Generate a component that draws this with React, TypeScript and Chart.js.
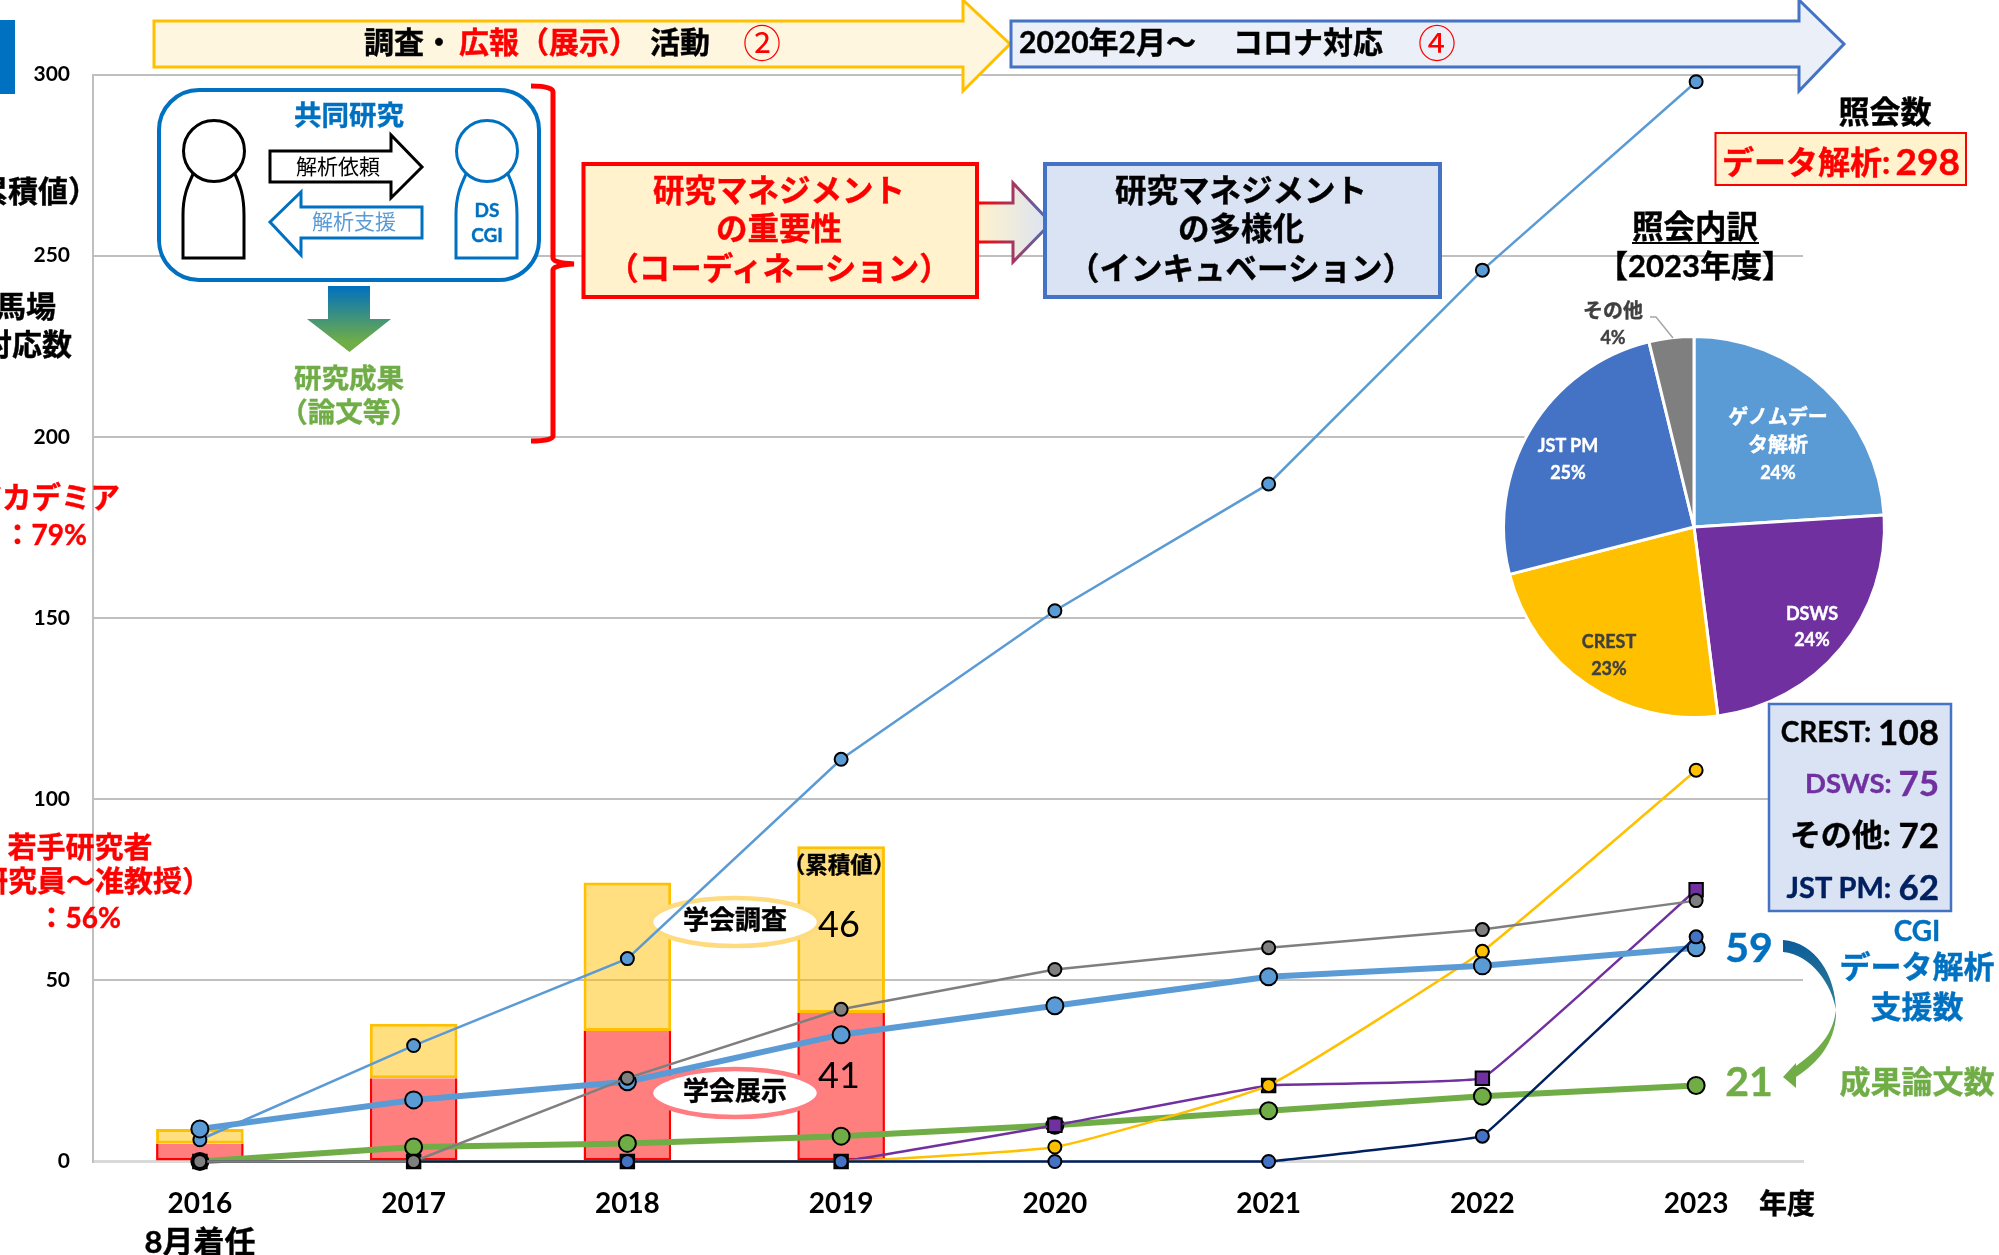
import React, { useEffect, useRef } from "react";
import { Chart, registerables } from "chart.js";

Chart.register(...registerables);

const FONT = "Lato, 'Noto Sans CJK JP', sans-serif";
const JP = "'Noto Sans CJK JP', sans-serif";

const years = ["2016", "2017", "2018", "2019", "2020", "2021", "2022", "2023"];
const boothCounts = [5, 23, 36, 41, null, null, null, null];
const surveyCounts = [4, 15, 41, 46, null, null, null, null];
const dataAnalysis = [6, 32, 56, 111, 152, 187, 246, 298];
const cgiSupport = [9, 17, 22, 35, 43, 51, 54, 59];
const papers = [0, 4, 5, 7, 10, 14, 18, 21];
const crest = [0, 0, 0, 0, 4, 21, 58, 108];
const dsws = [0, 0, 0, 0, 10, 21, 23, 75];
const others = [0, 0, 23, 42, 53, 59, 64, 72];
const jstPm = [0, 0, 0, 0, 0, 0, 7, 62];

const yTicks = [0, 50, 100, 150, 200, 250, 300];

const pieNames = ["ゲノムデータ解析", "DSWS", "CREST", "JST PM", "その他"];
const pieValues = [24, 24, 23, 25.2, 3.8];
const pieColors = ["#5b9bd5", "#7030a0", "#ffc000", "#4472c4", "#7f7f7f"];

const W = 1999;
const H = 1255;

const line = (label: string, data: number[], color: string, markerFill: string, order: number, opts: any = {}) => ({
  type: "line" as const,
  label,
  data,
  order,
  borderColor: color,
  backgroundColor: markerFill,
  borderWidth: 2.5,
  pointRadius: 6.5,
  pointBorderWidth: 2,
  pointBorderColor: "#000000",
  pointBackgroundColor: markerFill,
  clip: false as const,
  tension: 0,
  ...opts,
});

const boothLabel = "学会展示";
const ovalsPlugin = {
  id: "ovals",
  afterDatasetDraw(chart: any, args: any) {
    if (args.meta.label !== boothLabel) return;
    const { ctx } = chart;
    const draw = (cy: number, color: string) => {
      ctx.save();
      ctx.beginPath();
      ctx.ellipse(735, cy, 84, 24, 0, 0, Math.PI * 2);
      ctx.fillStyle = "#ffffff";
      ctx.fill();
      ctx.lineWidth = 4.5;
      ctx.strokeStyle = color;
      ctx.stroke();
      ctx.restore();
    };
    draw(922, "#ffdb7f");
    draw(1093, "#ff7c80");
  },
};

function T({ x, y, size = 30, fill = "#000", anchor = "middle", weight = 700, family = FONT, children }: any) {
  return (
    <text
      x={x}
      y={y - 0.03 * size}
      fontSize={size}
      fill={fill}
      textAnchor={anchor}
      fontWeight={weight}
      fontFamily={family}
      dominantBaseline="central"
      stroke={weight >= 700 ? fill : "none"}
      strokeWidth={weight >= 700 ? 0.4 : 0}
    >
      {children}
    </text>
  );
}

const fundingRows: any[] = [
  ["CREST: ", "108", "#000", 732, 28],
  ["DSWS: ", "75", "#7030a0", 783, 27.5],
  ["その他: ", "72", "#000", 835, 31],
  ["JST PM: ", "62", "#002060", 887, 29],
];

function Overlay() {
  return (
    <svg width={W} height={H} style={{ position: "absolute", left: 0, top: 0 }}>
      <defs>
        <linearGradient id="downG" x1="0" y1="0" x2="0" y2="1">
          <stop offset="0" stopColor="#0070c0" />
          <stop offset="0.85" stopColor="#70ad47" />
        </linearGradient>
        <linearGradient id="midFill" gradientUnits="userSpaceOnUse" x1="977" y1="0" x2="1051" y2="0">
          <stop offset="0" stopColor="#fff2cc" />
          <stop offset="1" stopColor="#dae3f3" />
        </linearGradient>
        <linearGradient id="midStroke" gradientUnits="userSpaceOnUse" x1="977" y1="0" x2="1051" y2="0">
          <stop offset="0" stopColor="#ff0000" />
          <stop offset="1" stopColor="#4472c4" />
        </linearGradient>
        <linearGradient id="curveG" gradientUnits="userSpaceOnUse" x1="0" y1="940" x2="0" y2="1088">
          <stop offset="0" stopColor="#0b5c9b" />
          <stop offset="0.45" stopColor="#2f7d95" />
          <stop offset="0.6" stopColor="#70ad47" />
          <stop offset="1" stopColor="#70ad47" />
        </linearGradient>
      </defs>

      <rect x="0" y="20" width="15" height="74" fill="#0070c0" />

      {/* left clipped notes */}
      <T x={98} y={190} size={30} anchor="end" family={JP}>（累積値）</T>
      <T x={56} y={306} size={30} anchor="end">馬場</T>
      <T x={72} y={344} size={30} anchor="end">対応数</T>
      <T x={120} y={497} size={29.5} anchor="end" fill="#ff0000">アカデミア</T>
      <T x={87} y={535} size={28} anchor="end" fill="#ff0000">：79%</T>
      <T x={80} y={847} size={29} fill="#ff0000">若手研究者</T>
      <T x={211} y={881} size={29} anchor="end" fill="#ff0000">（研究員～准教授）</T>
      <T x={121} y={918} size={28} anchor="end" fill="#ff0000">：56%</T>

      {/* top arrows */}
      <path d="M154,21 H963 V0 L1010,44 L963,91 V67 H154 Z" fill="#fff6e0" stroke="#ffc000" strokeWidth="3" />
      <T x={364} y={42} size={30} anchor="start">調査・</T>
      <T x={459} y={42} size={30} anchor="start" fill="#ff0000">広報（展示）</T>
      <T x={650} y={42} size={30} anchor="start">活動</T>
      <T x={743} y={42} size={38} anchor="start" fill="#ff0000" weight={400} family={JP}>②</T>

      <path d="M1011,21 H1799 V0 L1844,44 L1799,91 V67 H1011 Z" fill="#eaeff8" stroke="#4472c4" strokeWidth="3" />
      <T x={1019} y={42} size={30} anchor="start">2020年2月～</T>
      <T x={1233} y={42} size={30} anchor="start">コロナ対応</T>
      <T x={1418} y={42} size={38} anchor="start" fill="#ff0000" weight={400} family={JP}>④</T>

      {/* collaboration box */}
      <rect x="159" y="90" width="380" height="190" rx="40" fill="#ffffff" stroke="#0070c0" strokeWidth="4" />
      <T x={349} y={115} size={27.5} fill="#0070c0">共同研究</T>
      <path d="M183,258 V215 C183,195 188,185 194,172 H234 C240,185 244,195 244,215 V258 Z" fill="#fff" stroke="#000" strokeWidth="3" />
      <ellipse cx="214" cy="151" rx="30.5" ry="30.5" fill="#fff" stroke="#000" strokeWidth="3" />
      <path d="M456,258 V215 C456,195 461,185 467,172 H507 C513,185 517,195 517,215 V258 Z" fill="#fff" stroke="#0070c0" strokeWidth="3" />
      <ellipse cx="487" cy="151" rx="30.5" ry="30.5" fill="#fff" stroke="#0070c0" strokeWidth="3" />
      <T x={487} y={210} size={19} fill="#0070c0">DS</T>
      <T x={487} y={235} size={19} fill="#0070c0">CGI</T>
      <path d="M270,151 H391 V135 L422,167 L391,198 V182 H270 Z" fill="#fff" stroke="#000" strokeWidth="3" />
      <T x={338} y={166} size={21} weight={400}>解析依頼</T>
      <path d="M422,207 H301 V192 L270,222 L301,255 V238 H422 Z" fill="#fff" stroke="#0070c0" strokeWidth="3" />
      <T x={354} y={221} size={21} weight={400} fill="#5b9bd5">解析支援</T>

      <path d="M328,286 H370 V319 H391 L349.5,352 L307,319 H328 Z" fill="url(#downG)" />
      <T x={349} y={378} size={27.5} fill="#70ad47">研究成果</T>
      <T x={349} y={412} size={27.5} fill="#70ad47">（論文等）</T>

      <path d="M531,86 Q553,86 553,92 V258 Q553,263 574,264 Q553,265 553,270 V436 Q553,441 531,441" fill="none" stroke="#ff0000" strokeWidth="5" />

      {/* management boxes */}
      <path d="M977,203 H1013 V183 L1051,223 L1013,262 V242 H977 Z" fill="url(#midFill)" stroke="url(#midStroke)" strokeWidth="3" />
      <rect x="583.5" y="164" width="393.5" height="133" fill="#fff2cc" stroke="#ff0000" strokeWidth="4" />
      <T x={779} y={191} size={31.5} fill="#ff0000">研究マネジメント</T>
      <T x={779} y={229} size={31.5} fill="#ff0000">の重要性</T>
      <T x={779} y={269} size={31.5} fill="#ff0000">（コーディネーション）</T>
      <rect x="1045" y="164" width="395" height="133" fill="#dae3f3" stroke="#4472c4" strokeWidth="4" />
      <T x={1241} y={191} size={31.5}>研究マネジメント</T>
      <T x={1241} y={229} size={31.5}>の多様化</T>
      <T x={1241} y={269} size={31.5}>（インキュベーション）</T>

      {/* inside-bar notes */}
      <T x={735} y={920} size={26}>学会調査</T>
      <T x={735} y={1091} size={26}>学会展示</T>
      <T x={839} y={924} size={36} weight={400}>46</T>
      <T x={839} y={1075} size={36} weight={400}>41</T>
      <T x={839} y={865} size={22.5}>（累積値）</T>

      {/* right side */}
      <T x={1885} y={112} size={31}>照会数</T>
      <rect x="1715.5" y="133" width="250.5" height="52" fill="#fff2cc" stroke="#ff0000" strokeWidth="2" />
      <T x={1722} y={162} size={32} anchor="start" fill="#ff0000">データ解析:</T>
      <T x={1960} y={162} size={37} anchor="end" fill="#ff0000">298</T>
      <T x={1695} y={227} size={31.5}>照会内訳</T>
      <line x1="1632" y1="243" x2="1759" y2="243" stroke="#000" strokeWidth="2" />
      <T x={1695} y={266} size={31}>【2023年度】</T>

      {/* pie labels */}
      <path d="M1650,317 H1656 L1673,338" fill="none" stroke="#a6a6a6" strokeWidth="1.5" />
      <T x={1613} y={311} size={20} fill="#404040">その他</T>
      <T x={1613} y={338} size={18} fill="#404040">4%</T>
      <T x={1778} y={417} size={20} fill="#fff">ゲノムデー</T>
      <T x={1778} y={445} size={20} fill="#fff">タ解析</T>
      <T x={1778} y={473} size={18} fill="#fff">24%</T>
      <T x={1812} y={614} size={18} fill="#fff">DSWS</T>
      <T x={1812} y={640} size={18} fill="#fff">24%</T>
      <T x={1609} y={642} size={18} fill="#404040">CREST</T>
      <T x={1609} y={669} size={18} fill="#404040">23%</T>
      <T x={1568} y={446} size={18} fill="#fff">JST PM</T>
      <T x={1568} y={473} size={18} fill="#fff">25%</T>

      {/* funding box */}
      <rect x="1769" y="704" width="182" height="207" fill="#dae3f3" stroke="#4472c4" strokeWidth="2.5" />
      {fundingRows.map(([label, value, color, y, labelSize]) => (
        <text key={label} x={1939} y={y - 1} textAnchor="end" dominantBaseline="central" fontFamily={FONT} fontWeight={700} fill={color} stroke={color} strokeWidth={0.4}>
          <tspan fontSize={labelSize}>{label}</tspan>
          <tspan fontSize={35}>{value}</tspan>
        </text>
      ))}

      <T x={1917} y={931} size={28} fill="#0070c0">CGI</T>
      <T x={1917} y={967} size={31} fill="#0070c0">データ解析</T>
      <T x={1917} y={1007} size={31} fill="#0070c0">支援数</T>
      <T x={1917} y={1082} size={31} fill="#70ad47">成果論文数</T>
      <T x={1749} y={948} size={41} fill="#0070c0">59</T>
      <T x={1749} y={1082} size={41} fill="#70ad47">21</T>
      <path
        d="M1783,940 C1815,942 1836,975 1836,1012 C1836,1040 1820,1062 1796,1077 L1796,1088 L1783,1077 L1796,1063 L1796,1066 C1818,1050 1833,1035 1836,1010 C1832,985 1812,955 1783,952 Z"
        fill="url(#curveG)"
      />
      <T x={1787} y={1204} size={28}>年度</T>
      <T x={200} y={1242} size={31}>8月着任</T>
    </svg>
  );
}

export default function App() {
  const mainRef = useRef<HTMLCanvasElement>(null);
  const pieRef = useRef<HTMLCanvasElement>(null);

  useEffect(() => {
    const main = new Chart(mainRef.current!, {
      type: "bar",
      plugins: [ovalsPlugin],
      data: {
        labels: years,
        datasets: [
          line("その他", others, "#7f7f7f", "#7f7f7f", 1),
          line("JST PM", jstPm, "#002060", "#4472c4", 2, { tension: 0.03 }),
          line("CGIデータ解析支援数", cgiSupport, "#5b9bd5", "#5b9bd5", 3, { borderWidth: 6, pointRadius: 8.5 }),
          line("CREST", crest, "#ffc000", "#ffc000", 4, { tension: 0.12 }),
          line("DSWS", dsws, "#7030a0", "#7030a0", 5, { pointStyle: "rect", pointRadius: 9.5, tension: 0.06 }),
          line("データ解析", dataAnalysis, "#5b9bd5", "#5b9bd5", 6),
          line("成果論文数", papers, "#70ad47", "#70ad47", 7, { borderWidth: 6, pointRadius: 8.5 }),
          {
            type: "bar" as const,
            label: boothLabel,
            data: boothCounts,
            order: 8,
            stack: "s",
            backgroundColor: "rgba(255,0,0,0.5)",
            borderColor: "#ff0000",
            borderWidth: 2.5,
            borderSkipped: "top",
          },
          {
            type: "bar" as const,
            label: "学会調査",
            data: surveyCounts,
            order: 9,
            stack: "s",
            backgroundColor: "rgba(255,192,0,0.5)",
            borderColor: "#ffc000",
            borderWidth: 3,
            borderSkipped: false,
          },
        ] as any,
      },
      options: {
        responsive: false,
        animation: false,
        devicePixelRatio: 1,
        layout: { padding: { left: 0, right: W - 1803, top: 74.5, bottom: 0 } },
        datasets: { bar: { categoryPercentage: 0.41, barPercentage: 1 } },
        plugins: { legend: { display: false }, tooltip: { enabled: false }, title: { display: false } },
        scales: {
          x: {
            stacked: true,
            afterFit: (s: any) => { s.height = H - 1161.5; },
            grid: {
              drawTicks: false,
              color: (c: any) => (c.index === years.length ? "#bfbfbf" : "rgba(0,0,0,0)"),
              lineWidth: 2,
            },
            border: { color: "#d9d9d9", width: 3 },
            ticks: {
              padding: 23,
              maxRotation: 0,
              autoSkip: false,
              color: "#000000",
              font: { family: FONT, size: 28, weight: "bold", lineHeight: 1.36 },
            },
          },
          y: {
            min: yTicks[0],
            max: yTicks[yTicks.length - 1],
            afterFit: (s: any) => { s.width = 93; },
            grid: { drawTicks: false, color: "#bfbfbf", lineWidth: 2 },
            border: { color: "#bfbfbf", width: 2 },
            ticks: {
              stepSize: yTicks[1] - yTicks[0],
              padding: 23,
              color: "#000000",
              font: { family: FONT, size: 21, weight: "bold" },
            },
          },
        },
      },
    } as any);

    const pie = new Chart(pieRef.current!, {
      type: "pie",
      data: {
        labels: pieNames,
        datasets: [{ data: pieValues, backgroundColor: pieColors, borderColor: "#ffffff", borderWidth: 3 }],
      },
      options: {
        responsive: false,
        animation: false,
        devicePixelRatio: 1,
        radius: 190.5,
        layout: { padding: 0 },
        plugins: { legend: { display: false }, tooltip: { enabled: false } },
      },
    } as any);

    return () => {
      main.destroy();
      pie.destroy();
    };
  }, []);

  return (
    <div style={{ position: "absolute", left: 0, top: 0, width: W, height: H, overflow: "hidden", background: "#ffffff" }}>
      <canvas ref={mainRef} width={W} height={H} style={{ position: "absolute", left: 0, top: 0, width: W, height: H }} />
      <canvas ref={pieRef} width={390} height={390} style={{ position: "absolute", left: 1694.4 - 195, top: 526.7 - 195, width: 390, height: 390 }} />
      <Overlay />
    </div>
  );
}
